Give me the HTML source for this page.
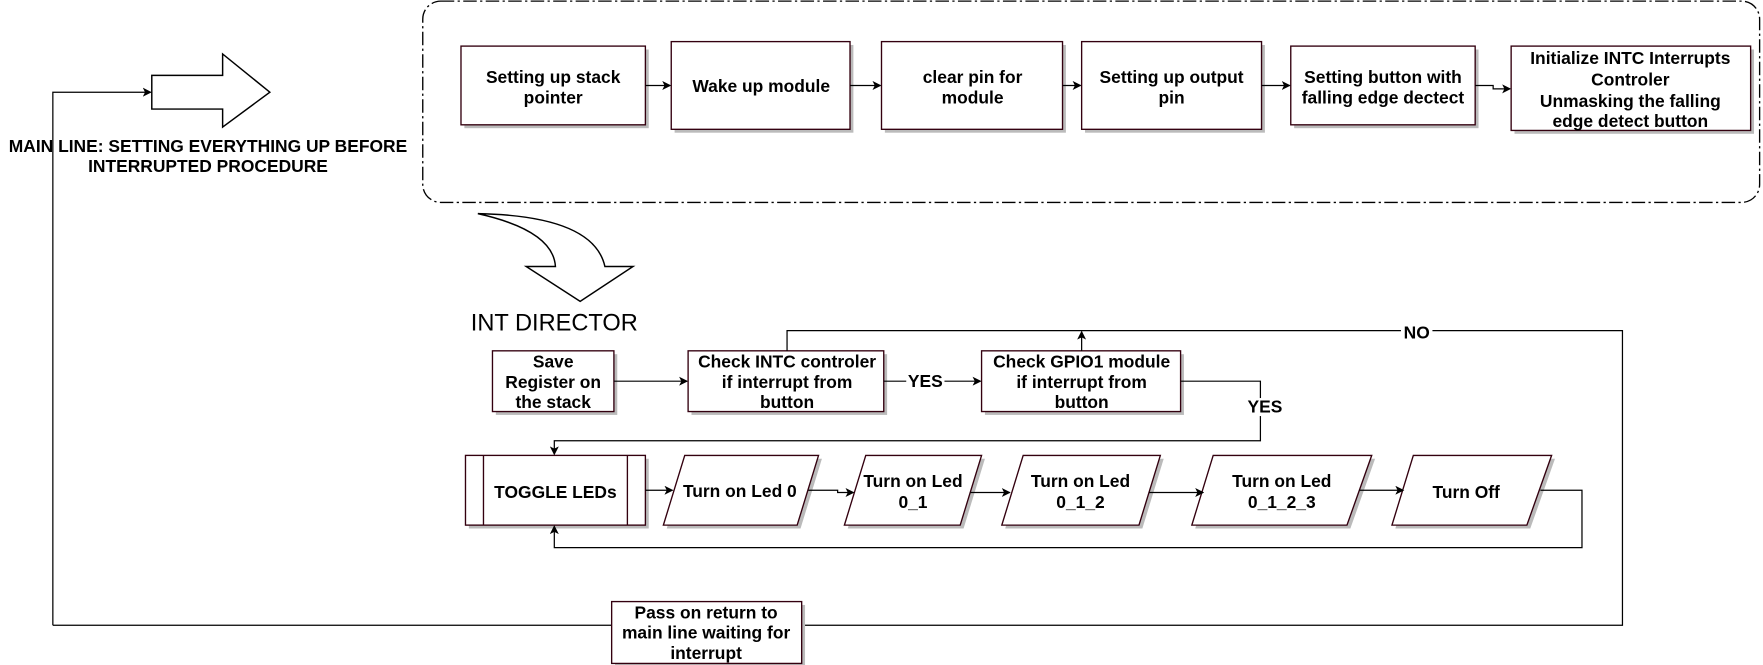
<!DOCTYPE html>
<html><head><meta charset="utf-8"><style>
html,body{margin:0;padding:0;background:#fff;}
svg{display:block;}
text{font-family:"Liberation Sans",Arial,sans-serif;font-weight:bold;font-size:15.5px;fill:#000;text-anchor:middle;}
.b{fill:#fff;stroke:#33000f;stroke-width:1.2;}
.s{fill:#bbb;}
.l{fill:none;stroke:#000;stroke-width:1.1;}
</style></head><body>
<svg width="1763" height="665" viewBox="0 0 1568 591.4" preserveAspectRatio="none">
<defs><marker id="a" markerWidth="8" markerHeight="8" refX="7" refY="4" orient="auto" markerUnits="userSpaceOnUse"><path d="M0,0 L8,4 L0,8 L2,4 z" fill="#000"/></marker></defs>
<rect x="376" y="1" width="1189" height="179" rx="16" fill="none" stroke="#000" stroke-width="1.2" stroke-dasharray="12,3,2,3"/>
<g>
<rect class="s" x="413" y="44" width="164" height="70"/><rect class="b" x="410" y="41" width="164" height="70"/>
<text x="492" y="74">Setting up stack</text><text x="492" y="92">pointer</text>
<rect class="s" x="600" y="40" width="159" height="78"/><rect class="b" x="597" y="37" width="159" height="78"/>
<text x="677" y="82">Wake up module</text>
<rect class="s" x="787" y="40" width="161" height="78"/><rect class="b" x="784" y="37" width="161" height="78"/>
<text x="865" y="74">clear pin for</text><text x="865" y="92">module</text>
<rect class="s" x="965" y="40" width="160" height="78"/><rect class="b" x="962" y="37" width="160" height="78"/>
<text x="1042" y="74">Setting up output</text><text x="1042" y="92">pin</text>
<rect class="s" x="1151" y="44" width="164" height="70"/><rect class="b" x="1148" y="41" width="164" height="70"/>
<text x="1230" y="74">Setting button with</text><text x="1230" y="92">falling edge dectect</text>
<rect class="s" x="1347" y="44" width="213" height="75"/><rect class="b" x="1344" y="41" width="213" height="75"/>
<text x="1450" y="57">Initialize INTC Interrupts</text><text x="1450" y="76">Controler</text><text x="1450" y="95">Unmasking the falling</text><text x="1450" y="113">edge detect button</text>
</g>
<path class="l" d="M574,76 H596" marker-end="url(#a)"/>
<path class="l" d="M756,76 H783" marker-end="url(#a)"/>
<path class="l" d="M945,76 H961" marker-end="url(#a)"/>
<path class="l" d="M1122,76 H1147" marker-end="url(#a)"/>
<path class="l" d="M1312,76 H1328 V79 H1343" marker-end="url(#a)"/>
<path d="M135,67 H198 V48 L240,82 L198,113 V97 H135 Z" fill="#fff" stroke="#000" stroke-width="1.3"/>
<path class="l" d="M47,556 V82 H134" marker-end="url(#a)"/>
<text x="185" y="135">MAIN LINE: SETTING EVERYTHING UP BEFORE</text>
<text x="185" y="153">INTERRUPTED PROCEDURE</text>
<path d="M425,190 Q528,192 538,237 H563 L516,268 L468,237 H494 Q492,205 425,190 Z" fill="#fff" stroke="#000" stroke-width="1.3"/>
<text x="493" y="294" style="font-weight:normal;font-size:21px">INT DIRECTOR</text>
<rect class="s" x="441" y="315" width="108" height="54"/><rect class="b" x="438" y="312" width="108" height="54"/>
<text x="492" y="327">Save</text><text x="492" y="345">Register on</text><text x="492" y="363">the stack</text>
<rect class="s" x="615" y="315" width="174" height="54"/><rect class="b" x="612" y="312" width="174" height="54"/>
<text x="700" y="327">Check INTC controler</text><text x="700" y="345">if interrupt from</text><text x="700" y="363">button</text>
<rect class="s" x="876" y="315" width="177" height="54"/><rect class="b" x="873" y="312" width="177" height="54"/>
<text x="962" y="327">Check GPIO1 module</text><text x="962" y="345">if interrupt from</text><text x="962" y="363">button</text>
<path class="l" d="M546,339 H611" marker-end="url(#a)"/>
<path class="l" d="M786,339 H872" marker-end="url(#a)"/>
<rect x="806" y="331" width="34" height="16" fill="#fff"/><text x="823" y="344">YES</text>
<path class="l" d="M700,312 V294 H1443 V556 H713"/>
<path class="l" d="M962,312 V295" marker-end="url(#a)"/>
<rect x="1246" y="288" width="28" height="16" fill="#fff"/><text x="1260" y="301">NO</text>
<path class="l" d="M544,556 H47"/>
<path class="l" d="M1050,339 H1121 V392 H493 V404" marker-end="url(#a)"/>
<rect x="1108" y="354" width="34" height="16" fill="#fff"/><text x="1125" y="367">YES</text>
<rect class="s" x="547" y="538" width="169" height="55"/><rect class="b" x="544" y="535" width="169" height="55"/>
<text x="628" y="550">Pass on return to</text><text x="628" y="568">main line waiting for</text><text x="628" y="586">interrupt</text>
<rect class="s" x="417" y="408" width="160" height="62"/><rect class="b" x="414" y="405" width="160" height="62"/>
<line x1="430" y1="405" x2="430" y2="467" stroke="#33000f" stroke-width="1.2"/><line x1="558" y1="405" x2="558" y2="467" stroke="#33000f" stroke-width="1.2"/>
<text x="494" y="443">TOGGLE LEDs</text>
<g>
<path class="s" d="M612,408 H731 L712,470 H593 Z"/><path class="b" d="M609,405 H728 L709,467 H590 Z"/>
<text x="658" y="442">Turn on Led 0</text>
<path class="s" d="M773,408 H876 L857,470 H754 Z"/><path class="b" d="M770,405 H873 L854,467 H751 Z"/>
<text x="812" y="433">Turn on Led</text><text x="812" y="452">0_1</text>
<path class="s" d="M913,408 H1035 L1016,470 H894 Z"/><path class="b" d="M910,405 H1032 L1013,467 H891 Z"/>
<text x="961" y="433">Turn on Led</text><text x="961" y="452">0_1_2</text>
<path class="s" d="M1082,408 H1223 L1201,470 H1063 Z"/><path class="b" d="M1079,405 H1220 L1198,467 H1060 Z"/>
<text x="1140" y="433">Turn on Led</text><text x="1140" y="452">0_1_2_3</text>
<path class="s" d="M1260,408 H1383 L1361,470 H1241 Z"/><path class="b" d="M1257,405 H1380 L1358,467 H1238 Z"/>
<text x="1304" y="443">Turn Off</text>
</g>
<path class="l" d="M574,436 H598" marker-end="url(#a)"/>
<path class="l" d="M719,436 H745 V438 H759" marker-end="url(#a)"/>
<path class="l" d="M863,438 H898" marker-end="url(#a)"/>
<path class="l" d="M1022,438 H1070" marker-end="url(#a)"/>
<path class="l" d="M1209,436 H1248" marker-end="url(#a)"/>
<path class="l" d="M1370,436 H1407 V487 H493 V468" marker-end="url(#a)"/>
</svg>
</body></html>
